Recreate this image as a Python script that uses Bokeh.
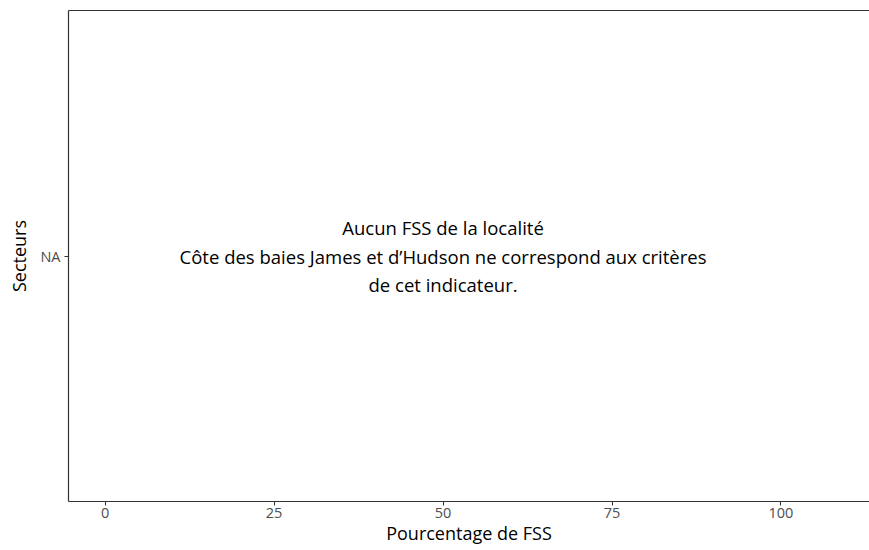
from bokeh.plotting import figure
from bokeh.models import FactorRange, Range1d, LinearAxis, FixedTicker
from bokeh.core.properties import value
from bokeh.embed import file_html
from bokeh.resources import INLINE

# Data
sectors = ["NA"]
x_ticks = [0, 25, 50, 75, 100]
message_x = [50]
message_y = ["NA"]
message = ["Aucun FSS de la localité\nCôte des baies James et d\u2019Hudson ne correspond aux critères\nde cet indicateur."]
x_title = "Pourcentage de FSS"
y_title = "Secteurs"

FONT = "Open Sans"
AX = "#333333"

p = figure(width=869, height=550, output_backend="svg", toolbar_location=None,
           x_range=Range1d(-5.42, 113.1), y_range=FactorRange(factors=sectors),
           min_border_left=68, min_border_right=0, min_border_top=10, min_border_bottom=49)
p.outline_line_color = None
p.grid.visible = False
p.background_fill_color = "white"

p.text(x=message_x, y=message_y, text=message, text_align="center", text_baseline="middle",
       text_font=value(FONT), text_font_size="18.5px", text_color="black", text_line_height=1.13)

for ax in (p.xaxis[0], p.yaxis[0]):
    ax.axis_line_color = AX
    ax.axis_line_width = 1.2
    ax.major_tick_line_color = AX
    ax.major_tick_in = 0
    ax.major_tick_out = 4
    ax.minor_tick_line_color = None
    ax.major_label_text_font = FONT
    ax.major_label_text_font_size = "14.5px"
    ax.major_label_text_color = "#4d4d4d"
    ax.axis_label_text_font = FONT
    ax.axis_label_text_font_size = "18px"
    ax.axis_label_text_font_style = "normal"
    ax.axis_label_text_color = "black"

p.xaxis[0].ticker = FixedTicker(ticks=x_ticks)
p.xaxis[0].axis_label = x_title
p.xaxis[0].major_label_standoff = 2
p.xaxis[0].axis_label_standoff = 0
p.yaxis[0].axis_label = y_title
p.yaxis[0].major_label_standoff = 4
p.yaxis[0].axis_label_standoff = 6

top = LinearAxis(ticker=FixedTicker(ticks=[]), major_tick_line_color=None,
                 minor_tick_line_color=None, axis_line_color=AX, axis_line_width=1.2)
p.add_layout(top, "above")

open("out.html", "w").write(file_html(p, INLINE))
